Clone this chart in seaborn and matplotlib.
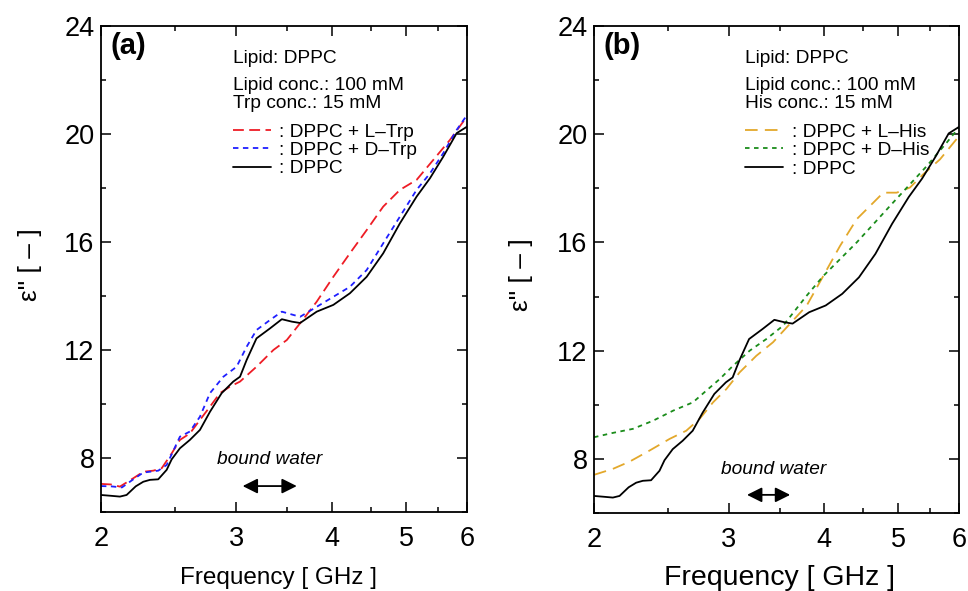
import numpy as np
import pandas as pd
import matplotlib
matplotlib.use("Agg")
import matplotlib.pyplot as plt
import seaborn as sns
from matplotlib.ticker import FixedLocator, FixedFormatter, MultipleLocator, NullFormatter

# DPPC only (same curve in both panels)
dppc_freq = [2.00, 2.06, 2.117, 2.16, 2.22, 2.271, 2.317, 2.375, 2.436, 2.473, 2.535, 2.612,
             2.692, 2.774, 2.873, 2.975, 3.036, 3.097, 3.190, 3.322, 3.442, 3.547, 3.636,
             3.822, 4.017, 4.222, 4.440, 4.666, 4.906, 5.158, 5.369, 5.588, 5.817, 6.00]
dppc_eps = [6.63, 6.60, 6.57, 6.63, 6.95, 7.12, 7.19, 7.21, 7.56, 7.95, 8.36, 8.67,
            9.04, 9.71, 10.40, 10.83, 11.01, 11.63, 12.43, 12.80, 13.14, 13.05, 13.00,
            13.42, 13.67, 14.10, 14.71, 15.58, 16.69, 17.68, 18.36, 19.16, 20.03, 20.27]

# (a) DPPC + L-Trp
ltrp_freq = [2.00, 2.06, 2.117, 2.204, 2.271, 2.340, 2.400, 2.473, 2.535, 2.612, 2.692,
             2.774, 2.858, 2.945, 3.036, 3.190, 3.356, 3.494, 3.636, 3.822, 4.017, 4.222,
             4.440, 4.666, 4.906, 5.158, 5.423, 5.701, 5.934, 6.00]
ltrp_eps = [7.04, 7.02, 6.94, 7.25, 7.49, 7.53, 7.62, 8.17, 8.67, 8.91, 9.41,
            9.90, 10.40, 10.64, 10.83, 11.38, 12.00, 12.37, 12.99, 13.79, 14.71, 15.58,
            16.44, 17.31, 17.93, 18.30, 19.04, 19.78, 20.46, 20.62]

# (a) DPPC + D-Trp
dtrp_freq = [2.00, 2.06, 2.13, 2.204, 2.271, 2.375, 2.436, 2.535, 2.612, 2.692, 2.774,
             2.888, 3.005, 3.097, 3.190, 3.322, 3.442, 3.562, 3.636, 3.822, 4.017, 4.222,
             4.440, 4.666, 4.906, 5.158, 5.369, 5.588, 5.817, 6.00]
dtrp_eps = [6.96, 6.95, 6.91, 7.21, 7.46, 7.53, 7.74, 8.79, 8.98, 9.53, 10.40,
            11.01, 11.38, 12.12, 12.74, 13.11, 13.42, 13.30, 13.23, 13.60, 13.97, 14.34,
            14.96, 15.95, 16.94, 17.93, 18.54, 19.29, 20.15, 20.70]

# (b) DPPC + L-His
lhis_freq = [2.00, 2.117, 2.227, 2.365, 2.512, 2.640, 2.749, 2.862, 2.979, 3.101, 3.260,
             3.428, 3.604, 3.793, 3.988, 4.194, 4.410, 4.636, 4.777, 4.974, 5.177, 5.388,
             5.666, 6.00]
lhis_eps = [7.41, 7.63, 7.90, 8.31, 8.74, 9.04, 9.48, 10.09, 10.58, 11.20, 11.81,
            12.31, 12.98, 13.66, 14.76, 15.87, 16.86, 17.47, 17.84, 17.84, 18.03, 18.52,
            19.07, 19.93]

# (b) DPPC + D-His
dhis_freq = [2.00, 2.117, 2.249, 2.389, 2.537, 2.694, 2.804, 2.920, 3.039, 3.196, 3.360,
             3.533, 3.793, 3.988, 4.410, 4.875, 5.444, 5.782, 6.00]
dhis_eps = [8.80, 8.96, 9.11, 9.41, 9.78, 10.09, 10.52, 10.95, 11.44, 12.00, 12.43,
            12.92, 14.03, 14.76, 16.00, 17.35, 18.82, 19.69, 20.25]

x_ticks = [2, 3, 4, 5, 6]
x_minor = [2.5, 3.5, 4.5, 5.5]
y_ticks = [8, 12, 16, 20, 24]

sns.set_theme(style="ticks")
plt.rcParams['font.family'] = ['Liberation Sans', 'DejaVu Sans']
plt.rcParams['text.color'] = 'black'
plt.rcParams['axes.labelcolor'] = 'black'
plt.rcParams['xtick.color'] = 'black'
plt.rcParams['ytick.color'] = 'black'

fig = plt.figure(figsize=(9.68, 5.91), dpi=100)
ax1 = fig.add_axes([0.1043, 0.1337, 0.3781, 0.8223])
ax2 = fig.add_axes([0.6136, 0.1320, 0.3771, 0.8240])

lw = 1.3
sns.lineplot(x=ltrp_freq, y=ltrp_eps, ax=ax1, color='#ee1c25', lw=lw,
             linestyle=(0, (6, 3)), label=': DPPC + L–Trp')
sns.lineplot(x=dtrp_freq, y=dtrp_eps, ax=ax1, color='#1f1fff', lw=lw,
             linestyle=(0, (3, 2.5)), label=': DPPC + D–Trp')
sns.lineplot(x=dppc_freq, y=dppc_eps, ax=ax1, color='black', lw=lw, label=': DPPC')

sns.lineplot(x=lhis_freq, y=lhis_eps, ax=ax2, color='#e3a82b', lw=lw,
             linestyle=(0, (7, 4)), label=': DPPC + L–His')
sns.lineplot(x=dhis_freq, y=dhis_eps, ax=ax2, color='#1a8c1a', lw=lw,
             linestyle=(0, (2.5, 2.5)), label=': DPPC + D–His')
sns.lineplot(x=dppc_freq, y=dppc_eps, ax=ax2, color='black', lw=lw, label=': DPPC')

panels = [
    (ax1, '(a)', 'Trp conc.: 15 mM', 0.36, 17.5, (0.484, -0.136), (-0.195, 0.508),
     (3.32, 7.93), (3.06, 3.60, 6.96)),
    (ax2, '(b)', 'His conc.: 15 mM', 0.414, 20.5, (0.507, -0.134), (-0.2, 0.49),
     (3.43, 7.6), (3.17, 3.61, 6.67)),
]

txt_size = 13.8
for ax, tag, conc, tx, xl_size, xl_pos, yl_pos, bw_pos, arr in panels:
    ax.set_xscale('log')
    ax.set_xlim(2, 6)
    ax.set_ylim(6, 24)
    ax.xaxis.set_major_locator(FixedLocator(x_ticks))
    ax.xaxis.set_major_formatter(FixedFormatter([str(t) for t in x_ticks]))
    ax.xaxis.set_minor_locator(FixedLocator(x_minor))
    ax.xaxis.set_minor_formatter(NullFormatter())
    ax.yaxis.set_major_locator(FixedLocator(y_ticks))
    ax.yaxis.set_minor_locator(MultipleLocator(2))
    ax.tick_params(which='both', direction='in', top=True, right=True, width=1.1,
                   labelsize=19.5, colors='black')
    ax.tick_params(which='major', length=7)
    ax.tick_params(which='minor', length=3.5)
    ax.tick_params(axis='x', which='major', pad=10)
    ax.tick_params(axis='y', which='major', pad=4.5)
    for sp in ax.spines.values():
        sp.set_linewidth(1.3)
        sp.set_color('black')

    ax.set_xlabel('Frequency [ GHz ]', fontsize=xl_size)
    ax.xaxis.label.set_va('center')
    ax.xaxis.set_label_coords(*xl_pos)
    ax.set_ylabel('ε" [ – ]', fontsize=19)
    ax.yaxis.label.set_va('center')
    ax.yaxis.set_label_coords(*yl_pos)

    ax.text(0.025, 0.958, tag, transform=ax.transAxes, fontsize=21, fontweight='bold',
            ha='left', va='center')
    ax.text(tx, 0.934, 'Lipid: DPPC', transform=ax.transAxes, fontsize=txt_size,
            ha='left', va='center')
    ax.text(tx, 0.877, 'Lipid conc.: 100 mM', transform=ax.transAxes, fontsize=txt_size,
            ha='left', va='center')
    ax.text(tx, 0.841, conc, transform=ax.transAxes, fontsize=txt_size,
            ha='left', va='center')
    leg = ax.legend(loc='upper left', bbox_to_anchor=(tx, 0.80), frameon=False,
                    fontsize=txt_size, handlelength=2.0, handletextpad=0.43,
                    labelspacing=0.05, borderpad=0, borderaxespad=0)
    for t in leg.get_texts():
        t.set_color('black')

    ax.text(bw_pos[0], bw_pos[1], 'bound water', fontsize=txt_size, style='italic',
            ha='center', va='center')
    ax.annotate('', xy=(arr[1], arr[2]), xytext=(arr[0], arr[2]),
                arrowprops=dict(arrowstyle='<|-|>,head_length=0.6,head_width=0.3',
                                color='black', lw=1.3, mutation_scale=15,
                                shrinkA=0, shrinkB=0))

plt.savefig('out.png', dpi=100)
